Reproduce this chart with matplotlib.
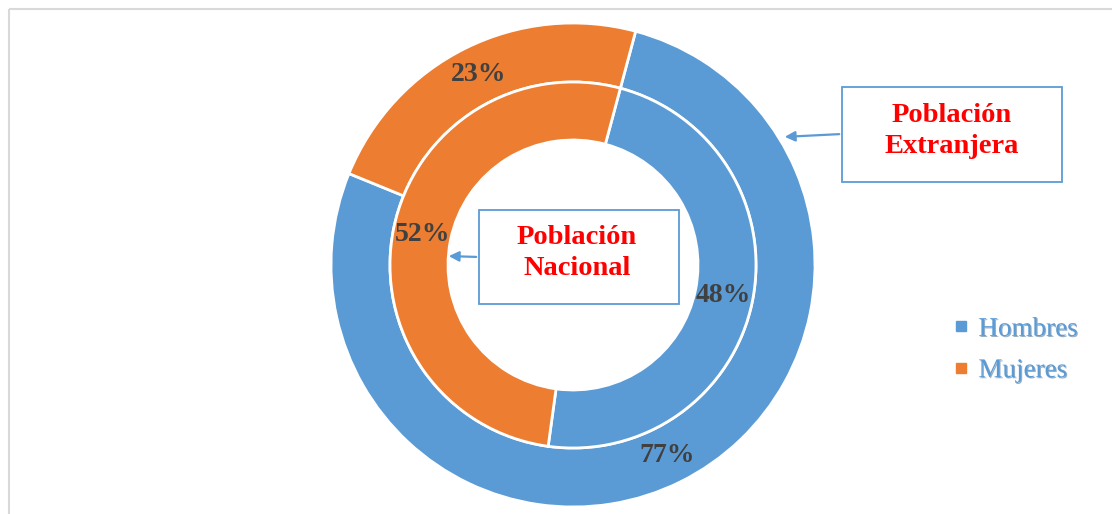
import numpy as np
import matplotlib
matplotlib.use('Agg')
import matplotlib.pyplot as plt
from matplotlib.patches import Rectangle
from matplotlib.lines import Line2D
import matplotlib.patheffects as pe

# datos del grafico
categorias = ['Hombres', 'Mujeres']
extranjera = [77, 23]   # anillo exterior
nacional = [48, 52]     # anillo interior

AZUL = '#5B9BD5'
NARANJA = '#ED7D31'
colores = [AZUL, NARANJA]
W, H = 1112, 514

fig = plt.figure(figsize=(W / 100, H / 100), dpi=100)
ax = fig.add_axes([0, 0, 1, 1])

cx, cy = 573, H - 265
etiqueta = dict(fontfamily='Liberation Serif', fontweight='bold', fontsize=20, color='#404040')

wedges, _, textos_ext = ax.pie(extranjera, colors=colores, radius=242, center=(cx, cy),
                               startangle=75, counterclock=False,
                               autopct=lambda p: '%d%%' % round(p), pctdistance=0.877,
                               wedgeprops=dict(width=59, edgecolor='white', linewidth=2),
                               textprops=etiqueta)
_, _, textos_nac = ax.pie(nacional, colors=colores, radius=183, center=(cx, cy),
                          startangle=75, counterclock=False,
                          autopct=lambda p: '%d%%' % round(p), pctdistance=0.84,
                          wedgeprops=dict(width=58, edgecolor='white', linewidth=2),
                          textprops=etiqueta)

ax.set_xlim(0, W)
ax.set_ylim(0, H)
ax.set_aspect('equal')
ax.axis('off')

# marco del grafico
fig.patches.append(Rectangle((9 / W, 1 - 9 / H), 2, -2, transform=fig.transFigure,
                             fill=False, edgecolor='#D9D9D9', linewidth=1.5))

titulo = dict(fontfamily='Liberation Serif', fontweight='bold', fontsize=20.5, color='#FF0000',
              ha='center', va='center', linespacing=1.3)

# Poblacion Extranjera
ax.add_patch(Rectangle((842, H - 182), 220, 95, fc='white', ec=AZUL, lw=1.3))
ax.text(952, H - 131, 'Población\nExtranjera', **titulo)
ax.annotate('', xy=(782, H - 137), xytext=(842, H - 134),
            arrowprops=dict(arrowstyle='-|>,head_length=0.6,head_width=0.3', color=AZUL, lw=1.6))

# Poblacion Nacional
ax.add_patch(Rectangle((479, H - 304), 200, 94, fc='white', ec=AZUL, lw=1.3))
ax.text(577, H - 253, 'Población\nNacional', **titulo)
ax.annotate('', xy=(446, H - 256), xytext=(479, H - 257),
            arrowprops=dict(arrowstyle='-|>,head_length=0.6,head_width=0.3', color=AZUL, lw=1.6))

# leyenda
handles = [Line2D([], [], marker='s', ls='none', color=c, markersize=6.5) for c in colores]
leg = fig.legend(handles, categorias, loc='center left', bbox_to_anchor=(954 / W, 1 - 350 / H),
                 frameon=False, handlelength=0.5, handletextpad=0.4, labelspacing=0.6,
                 borderpad=0, borderaxespad=0,
                 prop=dict(family='Liberation Serif', size=19.5), labelcolor=AZUL)
for t in leg.get_texts():
    t.set_path_effects([pe.withSimplePatchShadow(offset=(0.8, -0.8), shadow_rgbFace='#2F5F8F', alpha=0.5)])

fig.savefig('out.png', dpi=100)
